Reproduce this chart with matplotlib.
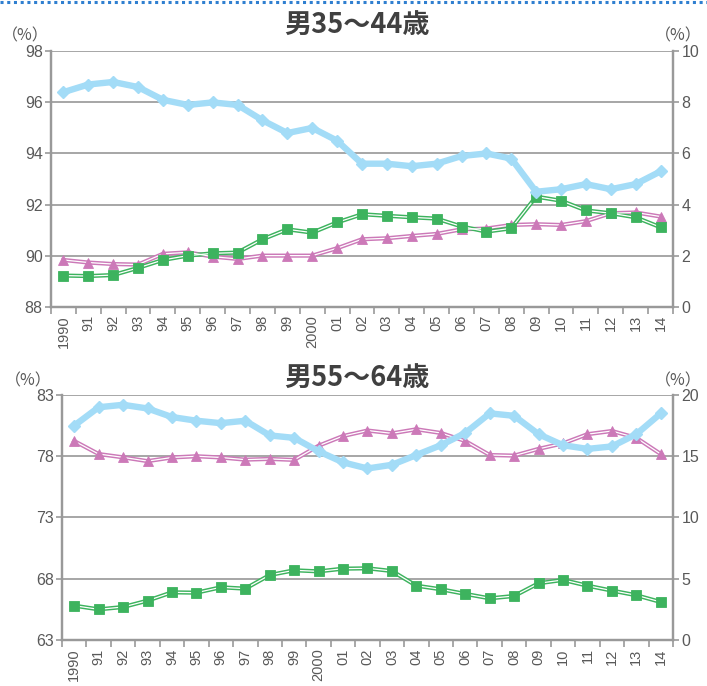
import matplotlib
matplotlib.use("Agg")
import matplotlib.pyplot as plt
from matplotlib.lines import Line2D
import numpy as np

plt.rcParams['font.family'] = ['Liberation Sans', 'Noto Sans CJK JP', 'DejaVu Sans']

years = list(range(1990, 2015))
year_labels = ['1990'] + [f"{y % 100:02d}" for y in years[1:10]] + ['2000'] + [f"{y % 100:02d}" for y in years[11:]]

# 男35～44歳
m35_blue = [96.4, 96.7, 96.8, 96.6, 96.1, 95.9, 96.0, 95.9, 95.3, 94.8, 95.0, 94.5, 93.6,
            93.6, 93.5, 93.6, 93.9, 94.0, 93.8, 92.5, 92.6, 92.8, 92.6, 92.8, 93.3]
m35_green = [1.22, 1.20, 1.24, 1.52, 1.83, 2.00, 2.09, 2.12, 2.64, 3.03, 2.90, 3.30, 3.62,
             3.56, 3.50, 3.45, 3.14, 2.94, 3.07, 4.31, 4.15, 3.77, 3.66, 3.50, 3.11]
m35_pink = [1.83, 1.73, 1.67, 1.65, 2.07, 2.13, 1.96, 1.87, 2.00, 2.00, 2.00, 2.29, 2.64,
            2.68, 2.77, 2.85, 3.03, 3.06, 3.20, 3.23, 3.20, 3.35, 3.66, 3.69, 3.53]

# 男55～64歳
m55_blue = [80.5, 82.0, 82.2, 81.9, 81.2, 80.9, 80.7, 80.9, 79.7, 79.5, 78.4, 77.5, 77.0,
            77.3, 78.1, 78.9, 79.9, 81.5, 81.3, 79.8, 78.9, 78.6, 78.8, 79.8, 81.5]
m55_green = [2.80, 2.50, 2.69, 3.21, 3.89, 3.86, 4.30, 4.19, 5.30, 5.69, 5.60, 5.82, 5.85,
             5.63, 4.43, 4.14, 3.76, 3.40, 3.59, 4.63, 4.90, 4.43, 4.03, 3.65, 3.10]
m55_pink = [16.24, 15.18, 14.91, 14.60, 14.90, 15.00, 14.90, 14.72, 14.78, 14.70, 15.86, 16.65, 17.10,
            16.87, 17.20, 16.90, 16.24, 15.10, 15.05, 15.60, 16.05, 16.80, 17.06, 16.50, 15.18]

BLUE = '#A3DCF7'
GREEN = '#3DB35E'
PINK = '#CC79B8'
GRID = '#A6A6A6'
TXT = '#595959'
TITLE = '#404040'

fig = plt.figure(figsize=(7.07, 6.86), dpi=100)

# dotted rule along the top edge
fig.add_artist(Line2D([0.0, 1.0], [0.9975, 0.9975], transform=fig.transFigure,
                      color='#2F7FD0', lw=2.2, linestyle=(0, (1, 1.2))))


def double_line(ax, x, y, color, marker, ms):
    ax.plot(x, y, color=color, lw=3.0, solid_joinstyle='miter', zorder=3)
    ax.plot(x, y, color='white', lw=0.9, zorder=4)
    ax.plot(x, y, linestyle='none', marker=marker, ms=ms, mfc=color,
            mec=color, mew=0.6, zorder=5)


def panel(rect, title, blue, green, pink, lmin, lmax, lstep, rmax, rstep,
          title_y, pct_y, pct_left_x, pct_right_x):
    ax = fig.add_axes(rect)
    x = np.arange(len(years))
    ax.set_xlim(-0.5, len(years) - 0.5)
    ax.set_ylim(lmin, lmax)
    ax.set_yticks(np.arange(lmin, lmax + 0.01, lstep))
    ax.yaxis.grid(True, color=GRID, lw=1.4)
    ax.set_axisbelow(True)

    ax2 = ax.twinx()
    ax2.set_ylim(0, rmax)
    ax2.set_yticks(np.arange(0, rmax + 0.01, rstep))

    for a in (ax, ax2):
        a.spines['top'].set_visible(False)
        for s in ('left', 'right', 'bottom'):
            a.spines[s].set_color('#999999')
            a.spines[s].set_linewidth(1.6)
        a.tick_params(axis='y', colors=TXT, labelsize=11.5, length=4, width=1.2,
                      direction='out', pad=2)
        a.tick_params(axis='y', color='#999999')

    ax.set_xticks(x)
    ax.set_xticklabels(year_labels, rotation=90, va='top', ha='center',
                       fontsize=10.5, color=TXT)
    ax.set_xticks(np.arange(-0.5, len(years), 1.0), minor=True)
    ax.tick_params(axis='x', which='major', length=0, pad=6)
    ax.tick_params(axis='x', which='minor', length=5, width=1.2, color='#999999',
                   direction='out')

    double_line(ax2, x, pink, PINK, '^', 6.5)
    double_line(ax2, x, green, GREEN, 's', 6.5)
    # blue series on the left axis, drawn above the others
    ax3 = ax.twinx()
    ax3.set_ylim(lmin, lmax)
    ax3.axis('off')
    ax3.plot(x, blue, color=BLUE, lw=4.6, marker='D', ms=6.5, mfc=BLUE, mec=BLUE,
             zorder=6)

    fig.text(0.505, title_y, title, ha='center', va='center', fontsize=19.5,
             fontweight='bold', color=TITLE, family=['Noto Sans CJK JP'])
    fig.text(pct_left_x, pct_y, '（%）', ha='center', va='center', fontsize=11.5,
             color=TXT, family=['Noto Sans CJK JP'])
    fig.text(pct_right_x, pct_y, '（%）', ha='center', va='center',
             fontsize=11.5, color=TXT, family=['Noto Sans CJK JP'])
    return ax


panel([0.0721, 0.5529, 0.8798, 0.3723], '男35～44歳', m35_blue, m35_green, m35_pink,
      88, 98, 2, 10, 2, 1 - 25 / 686, 1 - 36 / 686, 25 / 707, 678 / 707)
panel([0.0877, 0.0671, 0.8642, 0.3571], '男55～64歳', m55_blue, m55_green, m55_pink,
      63, 83, 5, 20, 5, 1 - 378 / 686, 1 - 381 / 686, 28 / 707, 678 / 707)

fig.savefig('out.png', dpi=100)
